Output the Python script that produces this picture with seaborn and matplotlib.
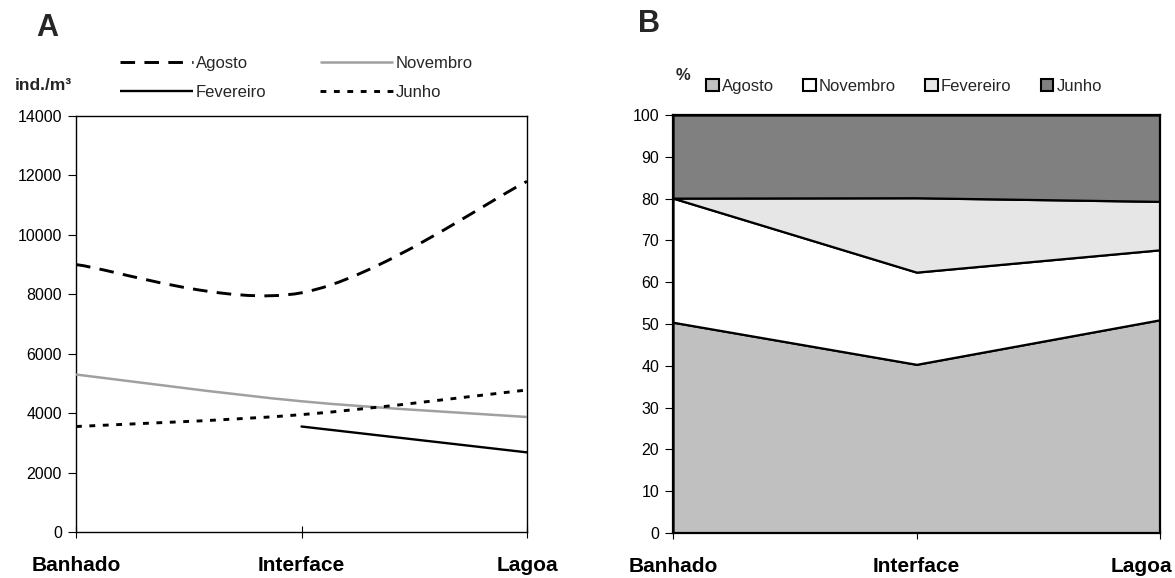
import numpy as np
import matplotlib
matplotlib.use("Agg")
import matplotlib.pyplot as plt
import matplotlib.transforms as mtransforms
import seaborn as sns
from matplotlib.path import Path
from matplotlib.patches import PathPatch, Patch
from matplotlib.lines import Line2D

# Sampling sites along the marsh-lagoon gradient
sites = ["Banhado", "Interface", "Lagoa"]
months = ["Agosto", "Novembro", "Fevereiro", "Junho"]

# Densities (ind./m³) per month at each site; no February sample at Banhado
agosto = [9000, 8050, 11800]
novembro = [5300, 4400, 3870]
fevereiro = [np.nan, 3550, 2680]
junho = [3550, 3950, 4780]

yticks_a = list(range(0, 14001, 2000))
yticks_b = list(range(0, 101, 10))

sns.set_theme(style="white")
plt.rcParams["font.family"] = ["Liberation Sans", "DejaVu Sans"]

W, H = 1175, 578
fig = plt.figure(figsize=(W / 100, H / 100), dpi=100)


def fx(px):
    return px / W


def fy(py):
    return 1 - py / H


ax_a = fig.add_axes([fx(76), fy(532), (527 - 76) / W, (532 - 116) / H])
ax_b = fig.add_axes([fx(673), fy(533), (1160 - 673) / W, (533 - 115) / H])

xpos = np.arange(len(sites))


def smooth_path(xs, ys):
    """Bezier path through the points, spreadsheet-style smoothed line."""
    pts = [(float(x), float(y)) for x, y in zip(xs, ys) if not np.isnan(y)]
    verts = [pts[0]]
    codes = [Path.MOVETO]
    n = len(pts)
    for i in range(n - 1):
        p0 = pts[i - 1] if i > 0 else pts[i]
        p1 = pts[i]
        p2 = pts[i + 1]
        p3 = pts[i + 2] if i + 2 < n else pts[i + 1]
        c1 = (p1[0] + (p2[0] - p0[0]) / 6, p1[1] + (p2[1] - p0[1]) / 6)
        c2 = (p2[0] - (p3[0] - p1[0]) / 6, p2[1] - (p3[1] - p1[1]) / 6)
        verts += [c1, c2, p2]
        codes += [Path.CURVE4] * 3
    return Path(verts, codes)


styles = {
    "Agosto": dict(color="black", lw=2.1, ls=(0, (5, 3.2))),
    "Novembro": dict(color="#a0a0a0", lw=1.8, ls="-"),
    "Fevereiro": dict(color="black", lw=1.7, ls="-"),
    "Junho": dict(color="black", lw=2.1, ls=(0, (2, 2.6))),
}
series = {"Agosto": agosto, "Novembro": novembro, "Fevereiro": fevereiro, "Junho": junho}


def style_axis(ax, spine_lw):
    for s in ax.spines.values():
        s.set_color("black")
        s.set_linewidth(spine_lw)
    ax.tick_params(axis="y", left=True, direction="out", length=6, width=0.8,
                   pad=4, colors="black", labelsize=11.5)
    ax.tick_params(axis="x", bottom=True, direction="inout", length=9, width=0.8,
                   pad=13, colors="black", labelsize=15)
    ax.set_xticks(xpos)
    ax.set_xticklabels(sites, fontweight="bold")


# ---- Panel A: densities
for name in ["Agosto", "Novembro", "Junho"]:
    st = styles[name]
    ax_a.add_patch(PathPatch(smooth_path(xpos, series[name]), fill=False,
                             edgecolor=st["color"], lw=st["lw"], ls=st["ls"],
                             capstyle="butt", zorder=3))
sns.lineplot(x=xpos, y=fevereiro, ax=ax_a, color="black", lw=1.7, zorder=3)

ax_a.set_xlim(0, 2)
ax_a.set_ylim(0, 14000)
ax_a.set_yticks(yticks_a)
ax_a.set_yticklabels([str(t) for t in yticks_a])
style_axis(ax_a, 1.0)

handles_a = [Line2D([], [], color=styles[m]["color"], lw=styles[m]["lw"],
                    ls=styles[m]["ls"], solid_capstyle="butt", dash_capstyle="butt")
             for m in ["Agosto", "Fevereiro", "Novembro", "Junho"]]
ax_a.legend(handles_a, ["Agosto", "Fevereiro", "Novembro", "Junho"], ncol=2,
            frameon=False, fontsize=12, handlelength=4.4, handletextpad=0.15,
            columnspacing=3.2, labelspacing=0.85, borderpad=0, borderaxespad=0,
            loc="upper left", bbox_to_anchor=(fx(120), fy(56)),
            bbox_transform=fig.transFigure)

fig.text(fx(15), fy(85), "ind./m³", fontsize=12.5, fontweight="bold",
         ha="left", va="center")
fig.text(fx(47), fy(28), "A", fontsize=22, fontweight="bold", ha="center", va="center")

# ---- Panel B: monthly share of the total at each site
counts = np.nan_to_num(np.array([agosto, novembro, fevereiro, junho], dtype=float))
pct = counts / counts.sum(axis=0) * 100
fills = ["#c0c0c0", "#ffffff", "#e6e6e6", "#808080"]
ax_b.stackplot(xpos, pct, colors=fills, edgecolor="black", linewidth=1.6)

ax_b.set_xlim(0, 2)
ax_b.set_ylim(0, 100)
ax_b.set_yticks(yticks_b)
ax_b.set_yticklabels([str(t) for t in yticks_b])
style_axis(ax_b, 1.6)

# keep the last site label inside the figure
last = ax_b.get_xticklabels()[-1]
last.set_horizontalalignment("right")
last.set_transform(last.get_transform() +
                   mtransforms.ScaledTranslation(12 / 100, 0, fig.dpi_scale_trans))

handles_b = [Patch(facecolor=c, edgecolor="black", linewidth=1.5) for c in fills]
ax_b.legend(handles_b, months, ncol=4, frameon=False, fontsize=12,
            handlelength=0.75, handleheight=0.75, handletextpad=0.2,
            columnspacing=1.75, borderpad=0, borderaxespad=0,
            loc="center left", bbox_to_anchor=(fx(706), fy(86)),
            bbox_transform=fig.transFigure)

fig.text(fx(683), fy(75), "%", fontsize=12, fontweight="bold", ha="center", va="center")
fig.text(fx(649), fy(24), "B", fontsize=22, fontweight="bold", ha="center", va="center")

fig.savefig("out.png", dpi=100)
